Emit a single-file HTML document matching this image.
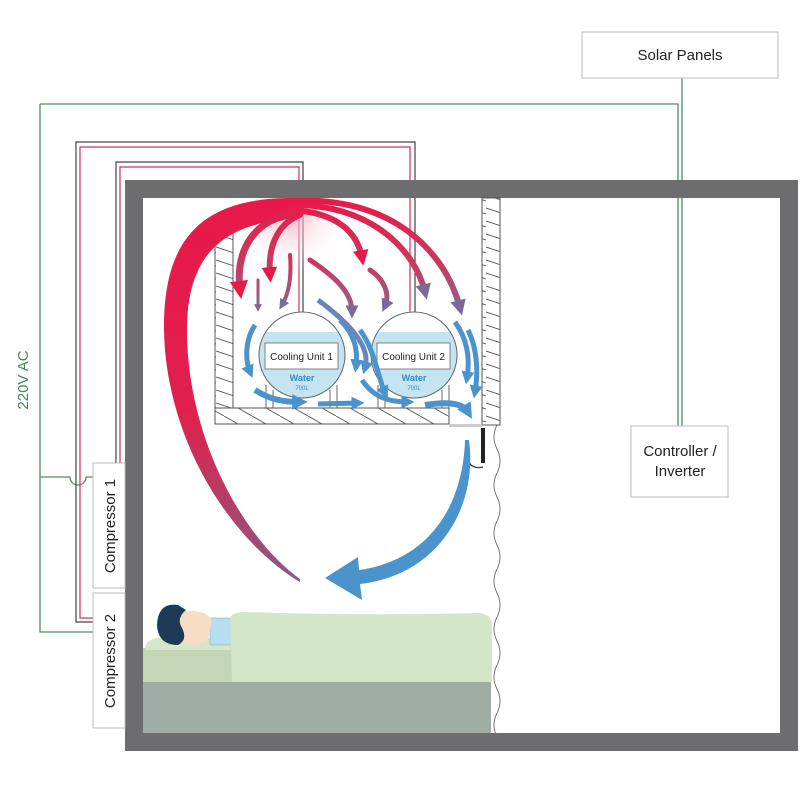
<!DOCTYPE html>
<html><head><meta charset="utf-8"><style>
html,body{margin:0;padding:0;background:#fff;}
svg{display:block;font-family:"Liberation Sans",sans-serif;}
</style></head><body>
<svg width="800" height="800" viewBox="0 0 800 800" xmlns="http://www.w3.org/2000/svg">
<defs>
<pattern id="hatch" width="18" height="13" patternUnits="userSpaceOnUse">
<rect width="18" height="13" fill="#fff"/>
<line x1="0" y1="0" x2="18" y2="6" stroke="#555" stroke-width="0.9"/>
<line x1="0" y1="13" x2="18" y2="19" stroke="#555" stroke-width="0.9"/>
<line x1="0" y1="-13" x2="18" y2="-7" stroke="#555" stroke-width="0.9"/>
</pattern>
<pattern id="hatch2" width="28" height="16" patternUnits="userSpaceOnUse">
<rect width="28" height="16" fill="#fff"/>
<line x1="0" y1="0" x2="28" y2="16" stroke="#555" stroke-width="0.9"/>
</pattern>
<linearGradient id="bigred" x1="0" y1="200" x2="0" y2="585" gradientUnits="userSpaceOnUse">
<stop offset="0" stop-color="#e8194a"/><stop offset="0.55" stop-color="#e0204c"/><stop offset="1" stop-color="#8a5a80"/>
</linearGradient>
<linearGradient id="rb" x1="0" y1="200" x2="0" y2="330" gradientUnits="userSpaceOnUse">
<stop offset="0" stop-color="#e8194a"/><stop offset="0.5" stop-color="#c83a60"/><stop offset="1" stop-color="#6e78a8"/>
</linearGradient>
<radialGradient id="glow" cx="290" cy="215" r="60" gradientUnits="userSpaceOnUse">
<stop offset="0" stop-color="#f3a0b4" stop-opacity="0.8"/><stop offset="1" stop-color="#fff" stop-opacity="0"/>
</radialGradient>
<clipPath id="room"><rect x="143" y="198" width="637" height="535"/></clipPath>
<marker id="ahr" viewBox="0 0 10 10" refX="5" refY="5" markerWidth="2.6" markerHeight="2.6" orient="auto"><path d="M0,0 L10,5 L0,10 z" fill="#e8194a"/></marker>
<marker id="ahp" viewBox="0 0 10 10" refX="5" refY="5" markerWidth="2.6" markerHeight="2.6" orient="auto"><path d="M0,0 L10,5 L0,10 z" fill="#7a6a9a"/></marker>
<marker id="ahb" viewBox="0 0 10 10" refX="5" refY="5" markerWidth="2.6" markerHeight="2.6" orient="auto"><path d="M0,0 L10,5 L0,10 z" fill="#4a93cc"/></marker>
</defs>

<g fill="none" stroke="#4f8f62" stroke-width="1.3">
<path d="M682 78 V426"/>
<path d="M40 104 H678 V426"/>
<path d="M40 104 V632 H93"/>
<path d="M40 477 H70 A8 8 0 0 0 86 477 H93"/>
</g>
<text transform="translate(28,380) rotate(-90)" text-anchor="middle" font-size="15" fill="#3f8a4a">220V AC</text>

<g fill="none" stroke-width="1.2">
<path d="M93 622 H76 V142 H415 V314" stroke="#444"/>
<path d="M93 618 H80 V147 H410 V314" stroke="#d0305a"/>
<path d="M116 463 V162 H303 V314" stroke="#444"/>
<path d="M120 463 V167 H299 V314" stroke="#d0305a"/>
</g>

<path d="M125 180 H798 V751 H125 Z M143 198 V733 H780 V198 Z" fill="#6d6d70" fill-rule="evenodd"/>

<rect x="143" y="682" width="348" height="51" fill="#9fada5"/>
<rect x="143" y="648" width="348" height="34" fill="#c4d6b4"/>
<path d="M145 650 Q145 638 160 638 H235 V650 Z" fill="#d6e6c8"/>
<path d="M210 618 H238 V645 H210 Z" fill="#b8dcf0" stroke="#7aa" stroke-width="0.5"/>
<path d="M180 612 Q205 608 212 620 L208 640 Q190 650 178 640 Z" fill="#f6dcc4"/>
<path d="M178 605 Q158 602 157 625 Q158 645 178 645 Q188 640 182 628 Q176 618 186 610 Z" fill="#1e3a55"/>
<path d="M230 618 Q232 612 245 612 Q360 616 480 613 Q492 615 492 625 V682 H232 Z" fill="#d3e6c6"/>

<path d="M497 425 q-6 12 0 24 q6 12 0 24 q-6 12 0 24 q6 12 0 24 q-6 12 0 24 q6 12 0 24 q-6 12 0 24 q6 12 0 24 q-6 12 0 24 q6 12 0 24 q-6 12 0 24 q6 12 0 24 q-6 12 0 24" fill="none" stroke="#777" stroke-width="1"/>

<rect x="215" y="232" width="18" height="192" fill="url(#hatch)" stroke="#555" stroke-width="1"/>
<rect x="215" y="408" width="234" height="16" fill="url(#hatch2)" stroke="#555" stroke-width="1"/>
<rect x="482" y="198" width="18" height="227" fill="url(#hatch)" stroke="#555" stroke-width="1"/>
<rect x="449" y="424" width="33" height="3" fill="#ccc"/>
<rect x="481" y="428" width="4" height="35" fill="#222"/>
<path d="M467 457 Q470 470 483 467" fill="none" stroke="#333" stroke-width="1.2"/>
<path d="M464 459 L467 455 L470 460" fill="none" stroke="#333" stroke-width="1"/>

<g stroke="#666" stroke-width="1">
<line x1="266" y1="385" x2="266" y2="408"/><line x1="273" y1="390" x2="273" y2="408"/>
<line x1="330" y1="390" x2="330" y2="408"/><line x1="337" y1="385" x2="337" y2="408"/>
<line x1="378" y1="385" x2="378" y2="408"/><line x1="385" y1="390" x2="385" y2="408"/>
<line x1="442" y1="390" x2="442" y2="408"/><line x1="449" y1="385" x2="449" y2="408"/>
</g>

<g>
<clipPath id="c1"><circle cx="302" cy="355" r="43"/></clipPath>
<clipPath id="c2"><circle cx="414" cy="355" r="43"/></clipPath>
<circle cx="302" cy="355" r="43" fill="#fff"/>
<rect x="255" y="332" width="100" height="70" fill="#c4e4f2" clip-path="url(#c1)"/>
<circle cx="302" cy="355" r="43" fill="none" stroke="#666" stroke-width="1"/>
<circle cx="414" cy="355" r="43" fill="#fff"/>
<rect x="367" y="332" width="100" height="70" fill="#c4e4f2" clip-path="url(#c2)"/>
<circle cx="414" cy="355" r="43" fill="none" stroke="#666" stroke-width="1"/>
<rect x="265" y="343" width="73" height="26" fill="#fff" stroke="#666" stroke-width="0.8"/>
<rect x="377" y="343" width="73" height="26" fill="#fff" stroke="#666" stroke-width="0.8"/>
<text x="301.5" y="360" text-anchor="middle" font-size="10" fill="#222">Cooling Unit 1</text>
<text x="413.5" y="360" text-anchor="middle" font-size="10" fill="#222">Cooling Unit 2</text>
<text x="302" y="381" text-anchor="middle" font-size="9" font-weight="bold" fill="#3a8ac0">Water</text>
<text x="302" y="390" text-anchor="middle" font-size="6" fill="#3a8ac0">700L</text>
<text x="414" y="381" text-anchor="middle" font-size="9" font-weight="bold" fill="#3a8ac0">Water</text>
<text x="414" y="390" text-anchor="middle" font-size="6" fill="#3a8ac0">700L</text>
</g>

<g clip-path="url(#room)">
<circle cx="290" cy="218" r="60" fill="url(#glow)"/>
<path d="M300 198 C205 196 163 235 164 330 C166 440 230 540 300 582 L300 579 C245 540 187 440 187 330 C187 255 222 222 300 218 Z" fill="url(#bigred)"/>

<g fill="none" stroke="url(#rb)" stroke-linecap="round">
<path d="M290 215 C255 220 235 250 240 290" stroke-width="7" marker-end="url(#ahr)"/>
<path d="M300 215 C275 225 268 250 270 275" stroke-width="6" marker-end="url(#ahr)"/>
<path d="M290 210 C340 212 358 235 362 258" stroke-width="6" marker-end="url(#ahr)"/>
<path d="M290 205 C370 203 415 250 425 292" stroke-width="6" marker-end="url(#ahp)"/>
<path d="M290 201 C390 195 445 250 460 308" stroke-width="6" marker-end="url(#ahp)"/>
<path d="M258 280 L258 308" stroke-width="3" marker-end="url(#ahp)"/>
<path d="M290 255 C292 280 288 295 282 305" stroke-width="4" marker-end="url(#ahp)"/>
<path d="M310 260 C340 280 352 295 352 312" stroke-width="5" marker-end="url(#ahp)"/>
<path d="M370 270 C385 280 390 295 385 306" stroke-width="5" marker-end="url(#ahp)"/>
</g>
</g>

<g fill="none" stroke="#4a93cc">
<path d="M255 325 C245 340 245 360 250 372" stroke-width="5" marker-end="url(#ahb)"/>
<path d="M340 320 C355 335 358 350 356 366" stroke-width="5" marker-end="url(#ahb)"/>
<path d="M318 300 C345 320 372 345 365 368" stroke-width="5" stroke="#6a86b8" marker-end="url(#ahb)"/>
<path d="M360 330 C375 350 378 378 385 393" stroke-width="5" marker-end="url(#ahb)"/>
<path d="M455 322 C468 340 470 360 467 378" stroke-width="5" marker-end="url(#ahb)"/>
<path d="M468 330 C478 350 478 375 475 392" stroke-width="5" marker-end="url(#ahb)"/>
<path d="M255 390 C270 400 285 402 300 402" stroke-width="6" marker-end="url(#ahb)"/>
<path d="M318 404 L358 403" stroke-width="5" marker-end="url(#ahb)"/>
<path d="M362 380 C372 395 385 402 408 402" stroke-width="5" marker-end="url(#ahb)"/>
<path d="M425 405 C445 402 462 402 468 412" stroke-width="6" marker-end="url(#ahb)"/>
</g>

<path d="M465 440 L469 440 C478 505 440 575 360 584 L362 600 L325 578 L358 557 L359 570 C430 560 463 505 465 440 Z" fill="#4a93cc"/>

<rect x="93" y="463" width="32" height="125" fill="#fff" stroke="#bbb" stroke-width="1"/>
<rect x="93" y="593" width="32" height="135" fill="#fff" stroke="#bbb" stroke-width="1"/>
<text transform="translate(115,526) rotate(-90)" text-anchor="middle" font-size="15" fill="#222">Compressor 1</text>
<text transform="translate(115,661) rotate(-90)" text-anchor="middle" font-size="15" fill="#222">Compressor 2</text>

<rect x="582" y="32" width="196" height="46" fill="#fff" stroke="#bbb" stroke-width="1"/>
<text x="680" y="60" text-anchor="middle" font-size="15" fill="#222">Solar Panels</text>

<rect x="631" y="426" width="97" height="71" fill="#fff" stroke="#bbb" stroke-width="1"/>
<text x="680" y="456" text-anchor="middle" font-size="15" fill="#222">Controller /</text>
<text x="680" y="476" text-anchor="middle" font-size="15" fill="#222">Inverter</text>
</svg>
</body></html>
